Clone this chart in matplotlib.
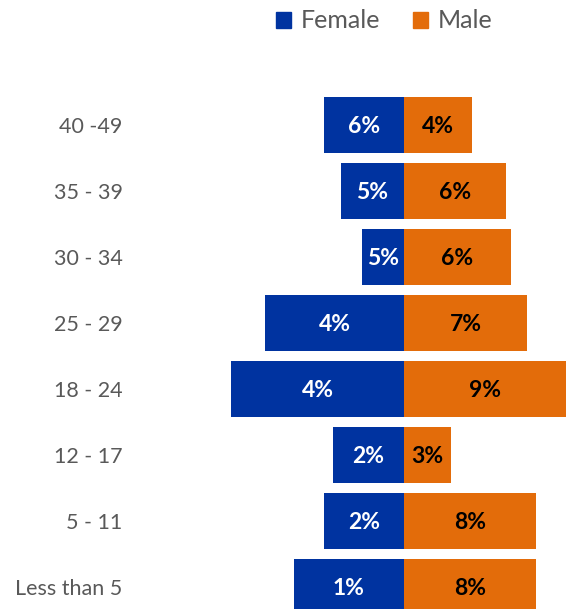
import matplotlib
matplotlib.use("Agg")
import matplotlib.pyplot as plt
from matplotlib.patches import Patch

plt.rcParams['font.family'] = ['Lato', 'DejaVu Sans']

categories = ["Less than 5", "5 - 11", "12 - 17", "18 - 24", "25 - 29", "30 - 34", "35 - 39", "40 -49"]
female_values = [110, 80, 71, 173, 139, 42, 63, 80]
male_values = [132, 132, 47, 162, 123, 107, 102, 68]
female_labels = ["1%", "2%", "2%", "4%", "4%", "5%", "5%", "6%"]
male_labels = ["8%", "8%", "3%", "9%", "7%", "6%", "6%", "4%"]

BLUE = "#0033A0"
ORANGE = "#E36C0A"
GREY = "#595959"

W, H = 566, 609
fig = plt.figure(figsize=(W / 100, H / 100), dpi=100)
ax_left = 135
ax = fig.add_axes([ax_left / W, (609 - 620) / H, (W - ax_left) / W, 528 / H])

y = list(range(len(categories)))
hgt = 0.85
ax.barh(y, [-v for v in female_values], height=hgt, color=BLUE)
ax.barh(y, male_values, height=hgt, color=ORANGE)

for i in y:
    ax.text(-female_values[i] / 2, i - 0.03, female_labels[i], ha='center', va='center',
            color='white', fontsize=16.5, fontweight='bold')
    ax.text(male_values[i] / 2, i - 0.03, male_labels[i], ha='center', va='center',
            color='black', fontsize=16.5, fontweight='bold')

ax.set_xlim(-(404 - ax_left), W - 404)
ax.set_ylim(-0.5, len(categories) - 0.5)
ax.set_yticks(y)
ax.set_yticklabels(categories, fontsize=15.5, color=GREY)
ax.tick_params(axis='y', length=0, pad=9)
ax.set_xticks([])
for s in ax.spines.values():
    s.set_visible(False)

handles = [Patch(color=BLUE, label="Female"), Patch(color=ORANGE, label="Male")]
leg = fig.legend(handles=handles, loc='center', bbox_to_anchor=(384 / W, 1 - 21 / H),
                 ncol=2, frameon=False, fontsize=18, handlelength=0.6, handleheight=0.6,
                 handletextpad=0.4, columnspacing=1.3, labelcolor=GREY)

fig.savefig("out.png", dpi=100)
